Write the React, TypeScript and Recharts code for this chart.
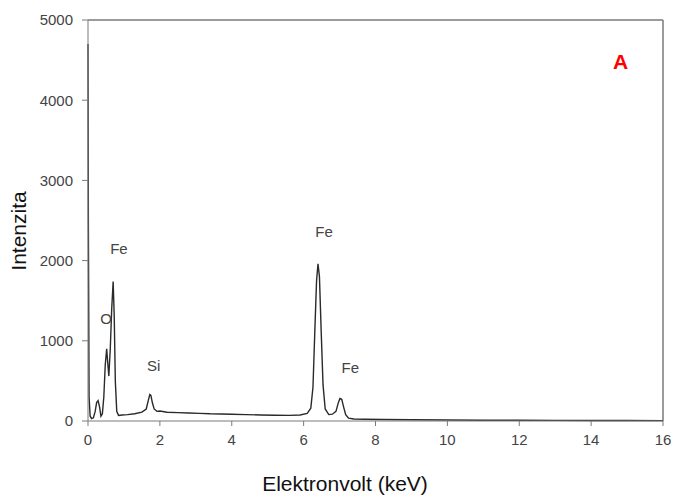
import { LineChart, Line, XAxis, YAxis, ReferenceLine, ReferenceDot } from "recharts";

// EDS spectrum (keV / counts)
const energy = [
  0, 0.01, 0.03, 0.06, 0.1, 0.15, 0.2, 0.24, 0.28, 0.32, 0.36, 0.4, 0.44, 0.48,
  0.52, 0.55, 0.58, 0.62, 0.66, 0.7, 0.73, 0.76, 0.8, 0.85, 0.95, 1.1, 1.3, 1.5,
  1.62, 1.68, 1.72, 1.75, 1.79, 1.84, 1.92, 2.0, 2.2, 2.5, 2.8, 3.1, 3.4, 3.7,
  4.0, 4.4, 4.8, 5.2, 5.6, 5.9, 6.1, 6.2, 6.26, 6.31, 6.36, 6.4, 6.44, 6.49,
  6.54, 6.6, 6.7, 6.8, 6.9, 6.96, 7.01, 7.06, 7.11, 7.17, 7.25, 7.4, 7.7, 8.2,
  9, 10, 11, 12, 13, 14, 15, 16,
];
const counts = [
  4700, 2500, 300, 60, 30, 40, 120, 230, 255, 180, 60, 90, 300, 700,
  900, 720, 560, 900, 1400, 1740, 1300, 500, 120, 70, 75, 80, 90, 110,
  150, 260, 330, 320, 230, 150, 120, 125, 110, 105, 100, 95, 90, 88,
  85, 80, 75, 72, 70, 75, 95, 160, 420, 1100, 1750, 1960, 1800, 1100,
  450, 150, 80, 85, 120, 220, 280, 270, 180, 80, 35, 25, 22, 18,
  15, 12, 10, 9, 8, 7, 6, 5,
];
const xTicks = [0, 2, 4, 6, 8, 10, 12, 14, 16];
const yTicks = [0, 1000, 2000, 3000, 4000, 5000];
const peakLabels = [
  { text: "Fe", e: 0.86, c: 2150 },
  { text: "O", e: 0.5, c: 1270 },
  { text: "Si", e: 1.83, c: 690 },
  { text: "Fe", e: 6.57, c: 2360 },
  { text: "Fe", e: 7.3, c: 660 },
];

const data = energy.map((e, i) => ({ e, c: counts[i] }));

const font = '"Liberation Sans", Arial, sans-serif';
const axisColor = "#7a7a7a";
const tickColor = "#444";

export default function App() {
  return (
    <div style={{ position: "absolute", left: 0, top: 0, background: "#fff" }}>
      <LineChart
        width={673}
        height={495}
        data={data}
        margin={{ top: 20, right: 10, left: 8, bottom: 0 }}
        style={{ fontFamily: font }}
      >
        <XAxis
          dataKey="e"
          type="number"
          domain={[0, 16]}
          ticks={xTicks}
          height={74}
          stroke={axisColor}
          tickSize={5}
          tickMargin={8}
          tick={{ fontSize: 15, fill: tickColor }}
          label={{
            content: () => (
              <text x={345} y={491} textAnchor="middle" fontSize={21} fill="#111" fontFamily={font}>
                Elektronvolt (keV)
              </text>
            ),
          }}
        />
        <YAxis
          type="number"
          domain={[0, 5000]}
          ticks={yTicks}
          width={80}
          stroke={axisColor}
          tickSize={6}
          tickMargin={9}
          tick={{ fontSize: 15, fill: tickColor }}
          label={{
            content: () => (
              <text
                x={20}
                y={231}
                textAnchor="middle"
                dominantBaseline="middle"
                fontSize={21}
                fill="#111"
                fontFamily={font}
                transform="rotate(-90, 20, 231)"
              >
                Intenzita
              </text>
            ),
          }}
        />
        <ReferenceLine y={5000} stroke={axisColor} strokeWidth={1.5} />
        <ReferenceLine x={16} stroke={axisColor} strokeWidth={1.5} />
        <Line
          type="linear"
          dataKey="c"
          stroke="#2a2a2a"
          strokeWidth={1.4}
          dot={false}
          isAnimationActive={false}
        />
        {peakLabels.map((p, i) => (
          <ReferenceDot
            key={i}
            x={p.e}
            y={p.c}
            r={0}
            stroke="none"
            fill="none"
            label={{ value: p.text, position: "center", fontSize: 15, fill: tickColor }}
          />
        ))}
        <ReferenceDot
          x={14.82}
          y={4480}
          r={0}
          stroke="none"
          fill="none"
          label={{ value: "A", position: "center", fontSize: 21, fontWeight: "bold", fill: "#ff0000" }}
        />
      </LineChart>
    </div>
  );
}
